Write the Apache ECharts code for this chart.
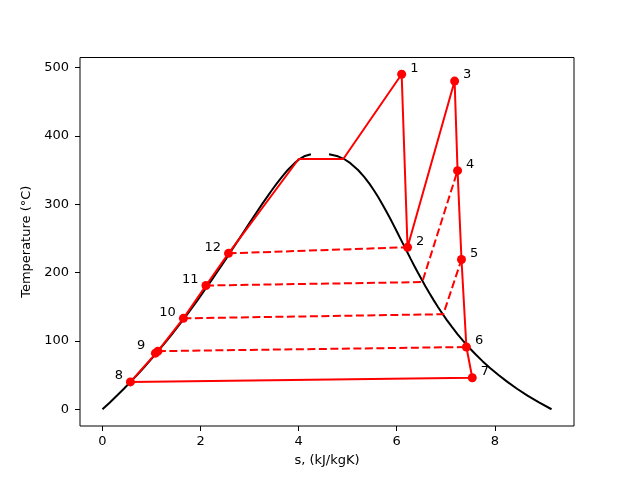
<!DOCTYPE html>
<html style="height: 100%">
<head>
    <meta charset="utf-8">
    <title>T-s diagram</title>
    <script src="https://cdn.jsdelivr.net/npm/echarts@6/dist/echarts.min.js"></script>
</head>
<body style="height: 100%; margin: 0; background: #fff">
<div id="container" style="width: 638px; height: 479px"></div>

<script type="text/javascript">
    // saturation dome of water, T in degC, s in kJ/kgK
    var domeT   = [0, 10, 20, 30, 40, 50, 60, 70, 80, 90, 100, 110, 120, 130, 140, 150, 160, 170, 180, 190,
                   200, 210, 220, 230, 240, 250, 260, 270, 280, 290, 300, 310, 320, 330, 340, 350, 360, 365, 370, 373];
    var liquidS = [0, 0.151, 0.297, 0.437, 0.572, 0.704, 0.831, 0.955, 1.076, 1.193, 1.307, 1.419, 1.528, 1.635, 1.739, 1.842, 1.943, 2.042, 2.139, 2.236,
                   2.331, 2.425, 2.518, 2.610, 2.702, 2.794, 2.885, 2.977, 3.069, 3.161, 3.255, 3.351, 3.449, 3.552, 3.660, 3.778, 3.917, 4.001, 4.111, 4.25];
    var vaporS  = [9.156, 8.900, 8.666, 8.452, 8.256, 8.075, 7.908, 7.754, 7.611, 7.478, 7.354, 7.238, 7.129, 7.026, 6.929, 6.837, 6.749, 6.665, 6.584, 6.506,
                   6.430, 6.356, 6.284, 6.213, 6.142, 6.072, 6.002, 5.930, 5.858, 5.783, 5.706, 5.624, 5.537, 5.442, 5.336, 5.211, 5.054, 4.950, 4.801, 4.62];

    // state points of the cycle
    var stateNames = ['1', '2', '3', '4', '5', '6', '7', '8', '9', '10', '11', '12'];
    var stateS = [6.10, 6.22, 7.18, 7.24, 7.32, 7.42, 7.54, 0.57, 1.13, 1.65, 2.11, 2.57];
    var stateT = [490, 237, 480, 349, 219, 91, 46, 40, 85, 133, 181, 228];
    // second marker next to state 9
    var pump9S = 1.08, pump9T = 82;

    // boiler: end of liquid heating and saturated vapour
    var boilS = [4.00, 4.91];
    var boilT = [366, 366];
    // bleed lines meet the vapour line here
    var bleedS = [6.52, 6.95];
    var bleedT = [186, 139];

    var xTicks = [0, 2, 4, 6, 8];
    var yTicks = [0, 100, 200, 300, 400, 500];

    function st(name) {
        var i = stateNames.indexOf(name);
        return [stateS[i], stateT[i]];
    }

    var dome = function (sArr) {
        return domeT.map(function (t, i) { return [sArr[i], t]; });
    };

    var mainPath = ['8', '9', '10', '11', '12'].map(st)
        .concat([[boilS[0], boilT[0]], [boilS[1], boilT[1]]])
        .concat(['1', '2', '3', '4', '5', '6', '7', '8'].map(st));

    var dashPaths = [
        [st('12'), st('2')],
        [st('11'), [bleedS[0], bleedT[0]], st('4')],
        [st('10'), [bleedS[1], bleedT[1]], st('5')],
        [st('9'), st('6')]
    ];

    var font = 'DejaVu Sans';
    var red = '#ff0000';

    var series = [];
    [liquidS, vaporS].forEach(function (arr) {
        series.push({
            type: 'line',
            data: dome(arr),
            showSymbol: false,
            z: 2,
            lineStyle: { color: '#000', width: 2 }
        });
    });
    series.push({
        type: 'line',
        data: mainPath,
        showSymbol: false,
        z: 3,
        lineStyle: { color: red, width: 2 }
    });
    dashPaths.forEach(function (p) {
        series.push({
            type: 'line',
            data: p,
            showSymbol: false,
            z: 3,
            lineStyle: { color: red, width: 2, type: [8, 3.5] }
        });
    });

    var pts = stateNames.map(function (n, i) {
        var left = i >= 7;
        return {
            value: [stateS[i], stateT[i]],
            label: {
                formatter: n,
                position: left ? 'left' : 'right',
                distance: n === '9' ? 8 : (left ? 3 : 4),
                offset: [0, -6]
            }
        };
    });
    pts.push({ value: [pump9S, pump9T], label: { show: false } });

    series.push({
        type: 'scatter',
        data: pts,
        symbol: 'circle',
        symbolSize: 9,
        z: 5,
        itemStyle: { color: red, opacity: 1 },
        label: {
            show: true,
            color: '#000',
            fontFamily: font,
            fontSize: 13
        }
    });

    var chart = echarts.init(document.getElementById('container'));
    chart.setOption({
        animation: false,
        backgroundColor: '#fff',
        grid: {
            left: 80, right: 64, top: 57.5, bottom: 53,
            show: true, borderColor: '#000', borderWidth: 1,
            backgroundColor: 'transparent'
        },
        xAxis: {
            type: 'value',
            min: -0.458, max: 9.614,
            name: 's, (kJ/kgK)',
            nameLocation: 'middle',
            nameGap: 28,
            nameTextStyle: { fontFamily: font, fontSize: 13, color: '#000' },
            axisLine: { show: false, onZero: false },
            axisTick: { show: true, length: 5, customValues: xTicks, lineStyle: { color: '#000' } },
            axisLabel: { customValues: xTicks, margin: 9, fontFamily: font, fontSize: 13, color: '#000' },
            splitLine: { show: false }
        },
        yAxis: {
            type: 'value',
            min: -24.5, max: 514.5,
            name: 'Temperature (°C)',
            nameLocation: 'middle',
            nameRotate: 90,
            nameGap: 46,
            nameTextStyle: { fontFamily: font, fontSize: 13, color: '#000' },
            axisLine: { show: false, onZero: false },
            axisTick: { show: true, length: 5, customValues: yTicks, lineStyle: { color: '#000' } },
            axisLabel: { customValues: yTicks, margin: 11, fontFamily: font, fontSize: 13, color: '#000' },
            splitLine: { show: false }
        },
        series: series
    });
</script>
</body>
</html>
